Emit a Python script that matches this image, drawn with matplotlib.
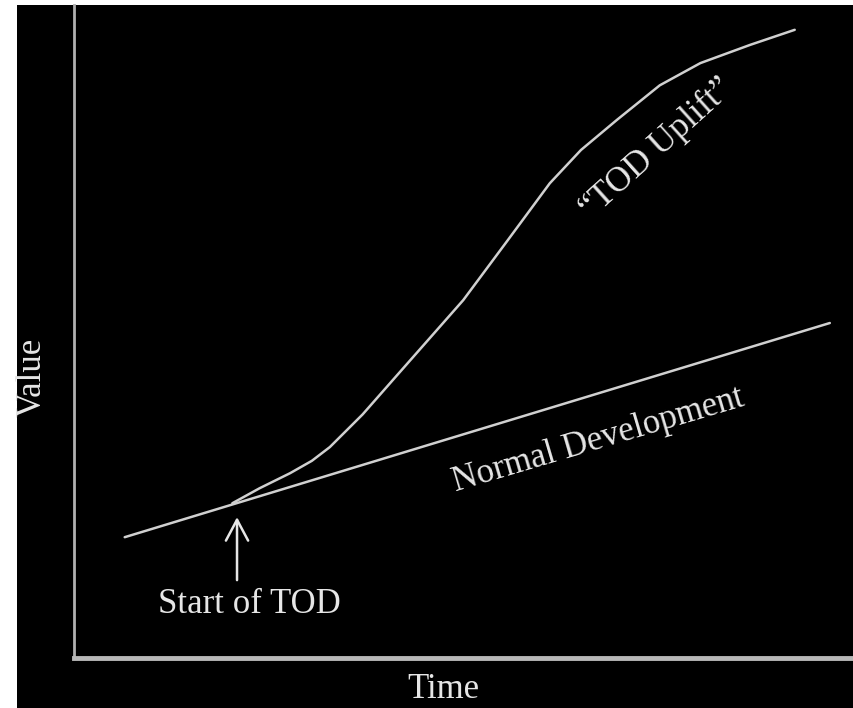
import matplotlib
matplotlib.use("Agg")
import matplotlib.pyplot as plt
from matplotlib.patches import Rectangle

# Data (arbitrary units)
normal_time = [0.65, 9.69]
normal_value = [1.85, 5.13]

tod_time = [2.03, 2.38, 2.77, 3.05, 3.28, 3.70, 4.09, 4.99, 5.55, 6.10, 6.50, 6.96, 7.51, 8.03, 8.67, 9.24]
tod_value = [2.37, 2.60, 2.83, 3.02, 3.23, 3.73, 4.26, 5.48, 6.38, 7.27, 7.78, 8.24, 8.77, 9.11, 9.39, 9.62]

start_time = 2.09
start_value = 2.35

plt.rcParams['font.family'] = ['Liberation Serif', 'DejaVu Serif']

W, H = 854, 708
fig = plt.figure(figsize=(W / 100, H / 100), dpi=100, facecolor='white')
fig.patches.append(Rectangle((17 / W, 0), 1 - 17 / W, (H - 5) / H,
                             transform=fig.transFigure, facecolor='black',
                             edgecolor='none', zorder=-10))

ax = fig.add_axes([74 / W, 50 / H, 780 / W, 653 / H])
ax.set_facecolor('black')
ax.set_xlim(0, 10)
ax.set_ylim(0, 10)

line_col = '#d0d0d0'
ax.plot(normal_time, normal_value, color=line_col, lw=1.8, solid_capstyle='round')
ax.plot(tod_time, tod_value, color=line_col, lw=1.8, solid_capstyle='round',
        solid_joinstyle='round')

for s in ['top', 'right']:
    ax.spines[s].set_visible(False)
ax.spines['left'].set_color('#b0b0b0')
ax.spines['left'].set_linewidth(2.0)
ax.spines['bottom'].set_color('#b8b8b8')
ax.spines['bottom'].set_linewidth(3.5)
ax.set_xticks([])
ax.set_yticks([])

txt_col = '#e6e6e6'
ax.annotate('', xy=(start_time, start_value - 0.15), xytext=(start_time, 1.15),
            arrowprops=dict(arrowstyle='->,head_length=1.5,head_width=0.8',
                            color=txt_col, lw=1.8))
ax.text(2.25, 0.82, 'Start of TOD', color=txt_col, fontsize=25,
        ha='center', va='center')
ax.text(7.47, 7.8, '\u201cTOD Uplift\u201d', color=txt_col, fontsize=25,
        ha='center', va='center', rotation=42)
ax.text(6.72, 3.33, 'Normal Development', color=txt_col, fontsize=25,
        ha='center', va='center', rotation=16.5)

fig.text(32 / W, 1 - 377 / H, 'Value', color=txt_col, fontsize=25,
         ha='center', va='center', rotation=90)
fig.text(443 / W, 1 - 690 / H, 'Time', color=txt_col, fontsize=25,
         ha='center', va='center')

fig.savefig('out.png', dpi=100, facecolor=fig.get_facecolor())
